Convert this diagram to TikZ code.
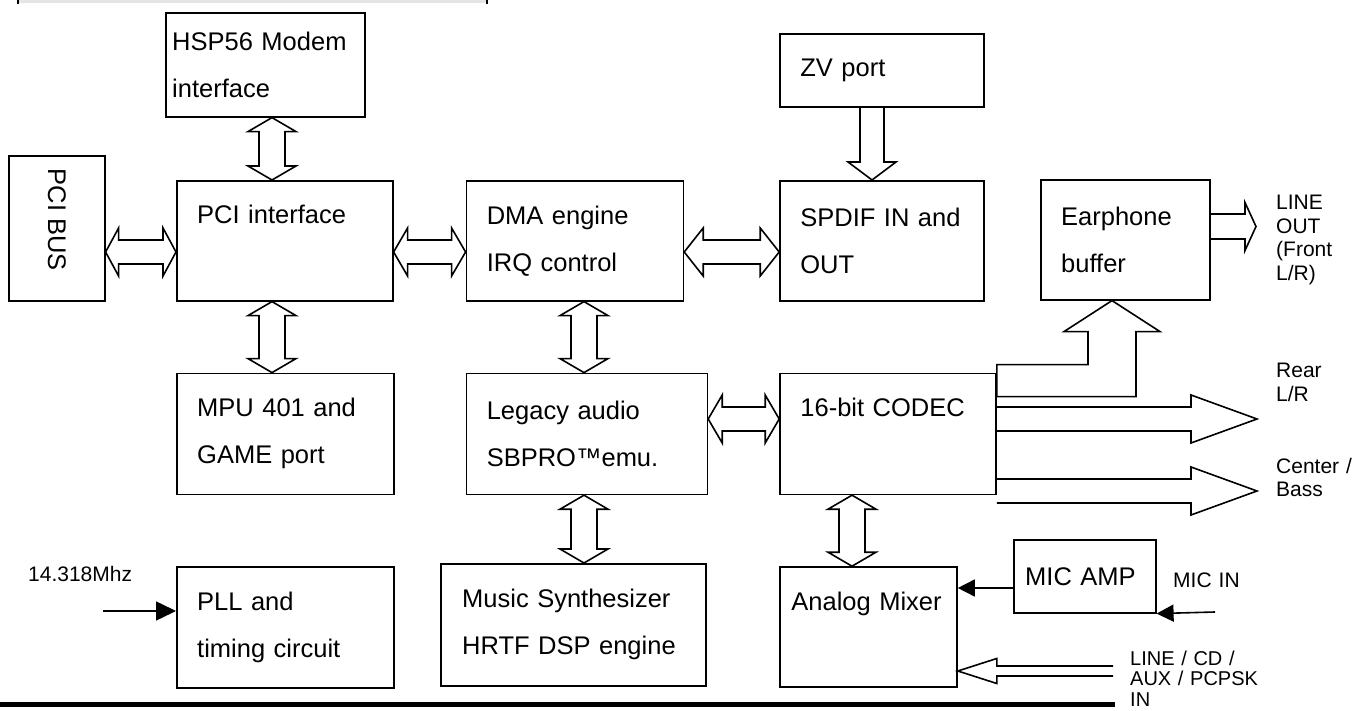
\documentclass[tikz,border=0pt]{standalone}
\usepackage{fontspec}
\setmainfont{Liberation Sans}
\usetikzlibrary{positioning, arrows.meta}

\tikzset{
  box/.style={draw, line width=1.6pt, anchor=north west, inner sep=0pt},
  txt/.style={anchor=west, inner sep=0pt, align=left, text width=280pt,
    font=\fontsize{25.5}{47}\selectfont},
  lbl/.style={anchor=base west, inner sep=0pt, align=left, text width=150pt,
    font=\fontsize{21}{23.5}\selectfont},
  fat/.style={draw, line width=1.6pt},
  sig/.style={draw, line width=1.6pt, -{Triangle[length=20pt, width=19pt]}},
}

% two-headed block arrows: top/bottom tip, left/right tip
\newcommand{\vboth}[2]{%
  \path (#1) coordinate (t) (#2) coordinate (b);
  \draw[fat] (t) -- ++(24,14) -- ++(-11,0) -- ([shift={(13,-14)}]b) -- ++(11,0) -- (b)
    -- ++(-24,-14) -- ++(11,0) -- ([shift={(-13,14)}]t) -- ++(-11,0) -- cycle;}
\newcommand{\hboth}[3][14]{%
  \path (#2) coordinate (l) (#3) coordinate (r);
  \draw[fat] (l) -- ++(#1,-24) -- ++(0,12) -- ([shift={(-#1,-12)}]r) -- ++(0,-12) -- (r)
    -- ++(-#1,24) -- ++(0,-12) -- ([shift={(#1,12)}]l) -- ++(0,12) -- cycle;}
% one-headed block arrow to the right: start, tip, shaft, head, head length
\newcommand{\outarrow}[5]{%
  \path (#1) coordinate (s) (#2) coordinate (e);
  \draw[fat] ([shift={(0,-#3)}]s) -- ([shift={(-#5,-#3)}]e) -- ([shift={(-#5,-#4)}]e) -- (e)
    -- ([shift={(-#5,#4)}]e) -- ([shift={(-#5,#3)}]e) -- ([shift={(0,#3)}]s);}

\begin{document}
\begin{tikzpicture}[x=1pt, y=-1pt]
\useasboundingbox (0,0) rectangle (1361,711);

% page rules
\fill[gray!20] (18,0) rectangle (487,3);
\draw[line width=2pt] (18,0) -- (18,4) (487,0) -- (487,4);
\draw[line width=5pt] (0,704) -- (1115,704);

% blocks
\node[box, minimum width=199pt, minimum height=104pt] (modem) at (165,12) {};
\node[box, minimum width=96pt, minimum height=145pt] (pcibus) at (8,155) {};
\node[box, minimum width=216pt, minimum height=120pt] (pci) at (176,180) {};
\node[box, minimum width=217pt, minimum height=120pt, right=72pt of pci.north east, anchor=north west] (dma) {};
\node[box, minimum width=204pt, minimum height=120pt, right=95pt of dma.north east, anchor=north west] (spdif) {};
\node[box, minimum width=204pt, minimum height=73pt, above=72pt of spdif.north west, anchor=south west] (zv) {};
\node[box, minimum width=169pt, minimum height=120pt] (ear) at (1040,179) {};
\node[box, minimum width=217pt, minimum height=121pt, below=71pt of pci.south west, anchor=north west] (mpu) {};
\node[box, minimum width=241pt, minimum height=121pt, right=71pt of mpu.north east, anchor=north west] (legacy) {};
\node[box, minimum width=216pt, minimum height=121pt, right=71pt of legacy.north east, anchor=north west] (codec) {};
\node[box, minimum width=217pt, minimum height=121pt, below=71pt of mpu.south west, anchor=north west] (pll) {};
\node[box, minimum width=265pt, minimum height=122pt] (music) at (440,563) {};
\node[box, minimum width=177pt, minimum height=120pt, below=71pt of codec.south west, anchor=north west] (mixer) {};
\node[box, minimum width=142pt, minimum height=73pt] (micamp) at (1013,539) {};

% block texts
\node[txt] (modem-t) at ([xshift=7pt]modem.west) {HSP56 Modem\\interface};
\node[font=\fontsize{25.5}{47}\selectfont, rotate=-90, inner sep=0pt] (pcibus-t) at (57,220) {PCI BUS};
\node[txt] (pci-t) at ([xshift=21pt]pci.west) {PCI interface\\\vphantom{g}};
\node[txt] (dma-t) at ([xshift=21pt]dma.west) {DMA engine\\IRQ control};
\node[txt] (zv-t) at ([xshift=21pt]zv.west) {ZV port};
\node[txt] (spdif-t) at ([xshift=21pt]spdif.west) {SPDIF IN and\\OUT};
\node[txt] (ear-t) at ([xshift=21pt]ear.west) {Earphone\\buffer};
\node[txt] (mpu-t) at ([xshift=21pt]mpu.west) {MPU 401 and\\GAME port};
\node[txt] (legacy-t) at ([xshift=21pt]legacy.west) {Legacy audio\\SBPRO™emu.};
\node[txt] (codec-t) at ([xshift=21pt]codec.west) {16-bit CODEC\\\vphantom{g}};
\node[txt] (pll-t) at ([xshift=21pt]pll.west) {PLL and\\timing circuit};
\node[txt] (music-t) at ([xshift=22pt]music.west) {Music Synthesizer\\HRTF DSP engine};
\node[txt] (mixer-t) at ([xshift=12pt]mixer.west) {Analog Mixer\\\vphantom{g}};
\node[txt] (micamp-t) at ([xshift=12pt]micamp.west) {MIC AMP};

% outside labels
\node[lbl] (clk-l) at (28,581) {14.318Mhz};
\node[lbl] (micin-l) at (1173,587) {MIC IN};
\node[lbl] (front-l) at (1276,210) {LINE\\OUT\\(Front\\L/R)};
\node[lbl] (rear-l) at (1276,378) {Rear\\L/R};
\node[lbl] (center-l) at (1276,473) {Center /\\Bass};
\node[lbl, font=\fontsize{20}{20.5}\selectfont] (aux-l) at (1130,665) {LINE / CD /\\AUX / PCPSK\\IN};

% bus arrows
\vboth{modem.south -| 272,0}{pci.north -| 272,0}
\vboth{pci.south -| 272,0}{mpu.north -| 272,0}
\vboth{dma.south -| 584,0}{legacy.north -| 584,0}
\vboth{legacy.south -| 584,0}{music.north -| 584,0}
\vboth{codec.south -| 852,0}{mixer.north -| 852,0}
\hboth[13]{pcibus.east |- 0,252}{pci.west |- 0,252}
\hboth{pci.east |- 0,252}{dma.west |- 0,252}
\hboth[19]{dma.east |- 0,252}{spdif.west |- 0,252}
\hboth{legacy.east |- 0,419}{codec.west |- 0,419}

% ZV port into SPDIF
\path (zv.south -| 872,0) coordinate (z1) (spdif.north -| 872,0) coordinate (z2);
\draw[fat] ([xshift=-12pt]z1) -- ([shift={(-12,-18)}]z2) -- ++(-12,0) -- (z2)
  -- ++(24,-18) -- ++(-12,0) -- ([xshift=12pt]z1);

% codec up to earphone buffer
\coordinate (k) at (ear.south -| 1112,0);
\draw[fat] (k) -- ++(48,31) -- ++(-24,0) |- ([yshift=-24pt]codec.north east)
  -- ([yshift=8pt]codec.north east) -| ([shift={(-24,31)}]k) -- ++(-24,0) -- cycle;

% audio outputs
\outarrow{ear.east |- 0,226.5}{1256,226.5}{12.5}{24}{11}
\outarrow{codec.east |- 0,419}{1257,419}{12}{24}{66}
\outarrow{codec.east |- 0,491}{1257,491}{12}{24}{66}

% line inputs into mixer
\coordinate (aux) at (1113,671);
\coordinate (mx) at (mixer.east |- aux);
\draw[fat] ([yshift=5pt]aux) -- ([shift={(39,-5)}]mx) -- ([shift={(39,-12.5)}]mx) -- (mx)
  -- ([shift={(39,12.5)}]mx) -- ([shift={(39,5)}]mx) -- ([yshift=-5pt]aux);

% signal lines
\coordinate (clk) at (103,611);
\draw[sig] (clk) -- (clk -| pll.west);
\draw[sig, -{Triangle[length=17pt, width=17pt]}] (micamp.west |- 0,588) -- (mixer.east |- 0,588);
\coordinate (micin) at (1215,612);
\draw[sig, -{Triangle[length=17pt, width=17pt]}] (micin) -- (micamp.south east);
\end{tikzpicture}
\end{document}
